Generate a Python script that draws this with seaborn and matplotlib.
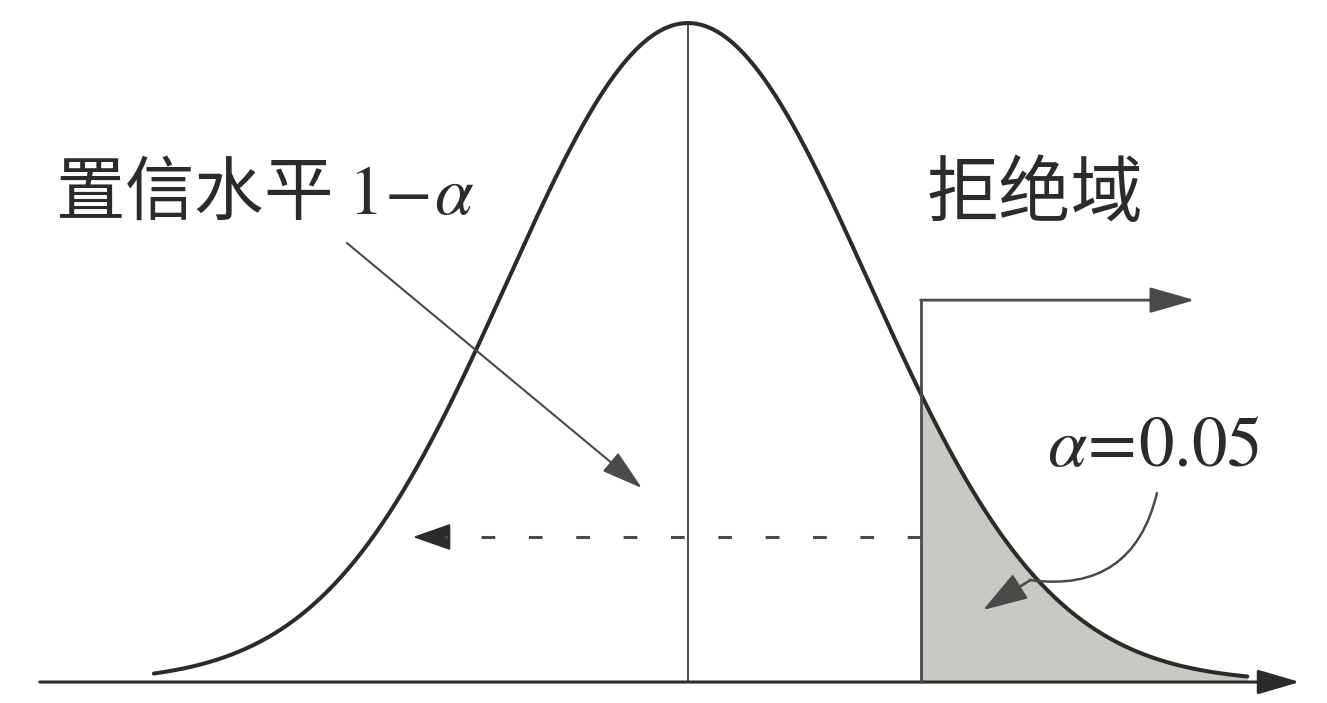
import numpy as np
import pandas as pd
import matplotlib
matplotlib.use('Agg')
import matplotlib.pyplot as plt
import seaborn as sns

# curve parameters (z units)
mu = 0.0
sigma = 1.0
z_left = -2.95
z_right = 3.09
z_crit = 1.29
alpha = 0.05

label_accept = '置信水平'
label_reject = '拒绝域'

z = np.linspace(z_left, z_right, 800)
dens = np.exp(-0.5 * ((z - mu) / sigma) ** 2) / (sigma * np.sqrt(2 * np.pi))
df = pd.DataFrame({'z': z, 'density': dens})
peak = 1 / (sigma * np.sqrt(2 * np.pi))

sns.set_theme(style='white')
plt.rcParams['font.family'] = ['Noto Sans CJK SC', 'DejaVu Sans']
plt.rcParams['mathtext.fontset'] = 'stix'

fig = plt.figure(figsize=(13.27, 7.03), dpi=100)
ax = fig.add_axes([0, 0, 1, 1])
ax.set_xlim(-3.80, 3.53)
ax.set_ylim(-0.0127, 0.4129)
ax.set_axis_off()

dark = '#2b2b2b'
mid = '#4a4a4a'

# shaded rejection region
tail = df[df['z'] >= z_crit]
ax.fill_between(tail['z'], 0, tail['density'], color='#c9c9c4', lw=0, zorder=1)

# the density curve
sns.lineplot(data=df, x='z', y='density', ax=ax, color=dark, lw=2.9, zorder=3)

# horizontal axis with arrow
ax.annotate('', xy=(3.38, 0), xytext=(-3.58, 0),
            arrowprops=dict(arrowstyle='-|>,head_length=1.3,head_width=0.38',
                            mutation_scale=20, lw=2.2, color=dark, shrinkA=0, shrinkB=0),
            zorder=4)

# centre line
ax.plot([mu, mu], [0, peak], color=mid, lw=1.4, zorder=2)

# critical line and rejection arrow
top = 0.2312
ax.plot([z_crit, z_crit], [0, top], color=mid, lw=2.0, zorder=4)
ax.annotate('', xy=(2.80, top), xytext=(z_crit - 0.005, top),
            arrowprops=dict(arrowstyle='-|>,head_length=1.4,head_width=0.4',
                            mutation_scale=20, lw=2.0, color=mid, shrinkA=0, shrinkB=0))

# dashed arrow to the left
ax.plot([z_crit, -1.34], [0.0878, 0.0878], color=mid, lw=2.2,
        ls=(0, (4.5, 11)), zorder=4)
ax.annotate('', xy=(-1.52, 0.0878), xytext=(-1.33, 0.0878),
            arrowprops=dict(arrowstyle='-|>,head_length=1.2,head_width=0.42',
                            mutation_scale=20, lw=1.5, color=dark, shrinkA=0, shrinkB=0))

# pointer from confidence label
ax.annotate('', xy=(-0.254, 0.1174), xytext=(-1.884, 0.2658),
            arrowprops=dict(arrowstyle='-|>,head_length=1.3,head_width=0.38',
                            mutation_scale=20, lw=1.5, color=mid, shrinkA=0, shrinkB=0))

# curved pointer from alpha label: arc then head
ax.annotate('', xy=(1.890, 0.0617), xytext=(2.591, 0.1144),
            arrowprops=dict(arrowstyle='-', lw=1.8, color=mid, shrinkA=0, shrinkB=0,
                            connectionstyle='arc3,rad=-0.45'), zorder=5)
ax.annotate('', xy=(1.63, 0.0436), xytext=(1.895, 0.0620),
            arrowprops=dict(arrowstyle='-|>,head_length=1.4,head_width=0.45',
                            mutation_scale=20, lw=1.8, color=mid, shrinkA=0, shrinkB=0),
            zorder=5)

# labels
ax.text(-3.497, 0.2954, label_accept + r' $1\!-\!\alpha$', fontsize=50, color=dark,
        va='center', ha='left')
ax.text(1.32, 0.2948, label_reject, fontsize=52, color=dark, va='center', ha='left')
ax.text(1.983, 0.1429, r'$\alpha\!=\!%.2f$' % alpha, fontsize=51, color=dark,
        va='center', ha='left')

fig.savefig('out.png', dpi=100)
